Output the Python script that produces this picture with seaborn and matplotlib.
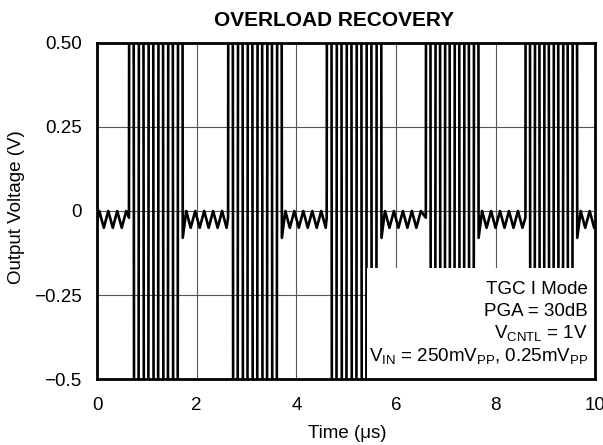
import pandas as pd
import seaborn as sns
import matplotlib.pyplot as plt
from matplotlib.patches import Rectangle

# burst windows (us)
burst_start = [0.64, 2.63, 4.61, 6.60, 8.60]
burst_end = [1.72, 3.71, 5.71, 7.66, 9.64]
burst_swings = [11, 11, 11, 11, 11]  # clipped half-cycles per burst
quiet_step = 0.09  # us between wiggle peaks and troughs
quiet_high = 0.0
quiet_low = -0.05
quiet_start = -0.03
dip_level = -0.08
rail = 8.0  # overdriven swing, far off scale

x_ticks = [0, 2, 4, 6, 8, 10]
x_tick_labels = ["0", "2", "4", "6", "8", "10"]
y_ticks = [0.5, 0.25, 0, -0.25, -0.5]
y_tick_labels = ["0.50", "0.25", "0", "\u22120.25", "\u22120.5"]
notes = [
    "TGC I Mode",
    "PGA = 30dB",
    r"V$_\mathregular{CNTL}$ = 1V",
    r"V$_\mathregular{IN}$ = 250mV$_\mathregular{PP}$, 0.25mV$_\mathregular{PP}$",
]
note_y = [0.253, 0.1875, 0.119, 0.0515]


def quiet_segment(t0, t1, first_hi=True):
    pts = []
    t = t0
    hi = first_hi
    while t < t1 - 0.02:
        pts.append((t, quiet_high if hi else quiet_low))
        hi = not hi
        t += quiet_step
    return pts


trace = [(0.0, quiet_start)]
trace += quiet_segment(0.045, burst_start[0])
for i, (s, e, n) in enumerate(zip(burst_start, burst_end, burst_swings)):
    trace.append((s, -0.02))
    step = (e - s) / n
    for k in range(n):
        trace.append((s + step * (k + 0.5), rail if k % 2 == 0 else -rail))
    trace.append((e, dip_level))
    nxt = burst_start[i + 1] if i + 1 < len(burst_start) else 10.3
    trace += quiet_segment(e + 0.07, nxt)

df = pd.DataFrame(trace, columns=["Time", "Voltage"])

sns.set_theme(style="white")
plt.rcParams["font.family"] = ["Liberation Sans", "DejaVu Sans"]
plt.rcParams["mathtext.fontset"] = "custom"
plt.rcParams["mathtext.rm"] = "Liberation Sans"
plt.rcParams["text.color"] = "black"

fig = plt.figure(figsize=(6.03, 4.45), dpi=100)
ax = fig.add_axes([0.161, 0.1483, 0.826, 0.7551])

sns.lineplot(data=df, x="Time", y="Voltage", sort=False, estimator=None,
             color="black", linewidth=1.9, ax=ax, zorder=2)
for ln in ax.get_lines():
    ln.set_solid_joinstyle("round")

ax.set_xlim(0, 10)
ax.set_ylim(-0.5, 0.5)
ax.set_xticks(x_ticks)
ax.set_xticklabels(x_tick_labels)
ax.set_yticks(y_ticks)
ax.set_yticklabels(y_tick_labels)
ax.tick_params(axis="x", length=0, pad=13, labelsize=13.5, colors="black")
ax.tick_params(axis="y", length=0, pad=11, labelsize=13.5, colors="black")
ax.set_xlabel("")
ax.set_ylabel("")
ax.grid(True, color="#555555", linewidth=0.8)
ax.set_axisbelow(True)
for sp in ax.spines.values():
    sp.set_color("black")
    sp.set_linewidth(2.0)

# white legend box over the lower right
ax.add_patch(Rectangle((5.42, -0.5), 4.58, 0.33, facecolor="white",
                       edgecolor="none", zorder=2.3))
for txt, y in zip(notes, note_y):
    ax.text(0.986, y, txt, transform=ax.transAxes, ha="right", va="baseline",
            fontsize=13.5, color="black", zorder=3)

fig.text(334.5 / 603, 1 - 20 / 445, "OVERLOAD RECOVERY", ha="center",
         va="center", fontsize=15, fontweight="bold", color="black")
fig.text(347.5 / 603, 1 - 433 / 445, "Time (\u03bcs)", ha="center",
         va="center", fontsize=13.5, color="black")
fig.text(17 / 603, 1 - 207.5 / 445, "Output Voltage (V)", ha="center",
         va="center", rotation=90, fontsize=13.5, color="black")

fig.savefig("out.png", dpi=100)
